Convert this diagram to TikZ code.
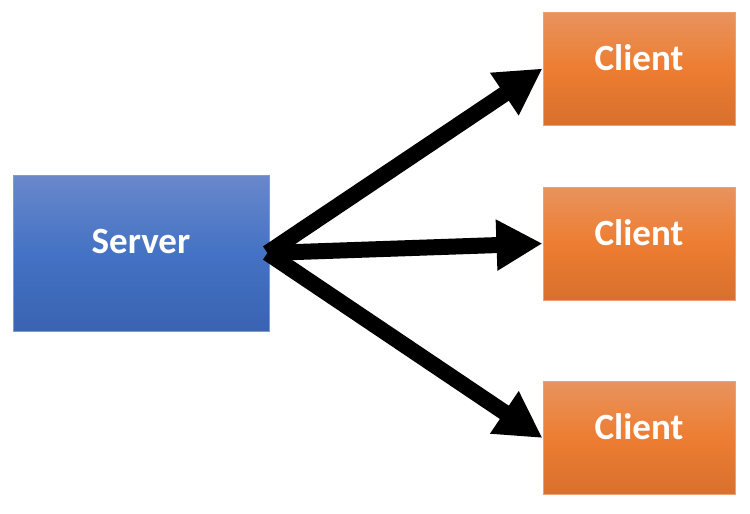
\documentclass[tikz,border=0pt]{standalone}
\usepackage{fontspec}
\setmainfont{Carlito}
\usetikzlibrary{arrows.meta}
\definecolor{srvtop}{HTML}{6A88CB}
\definecolor{srvmid}{HTML}{4472C4}
\definecolor{srvbot}{HTML}{3A63B2}
\definecolor{srvedge}{HTML}{7F9BD6}
\definecolor{clitop}{HTML}{E8935E}
\definecolor{climid}{HTML}{ED7D31}
\definecolor{clibot}{HTML}{D8702E}
\definecolor{cliedge}{HTML}{F0A070}
\tikzset{
  boxtext/.style={text=white, font=\fontsize{37}{40}\selectfont\bfseries, yshift=11pt},
  srvbox/.style={rectangle, draw=srvedge, line width=1pt, top color=srvtop, bottom color=srvbot, middle color=srvmid,
    minimum width=256pt, minimum height=156pt, inner sep=0pt},
  clibox/.style={rectangle, draw=cliedge, line width=1pt, top color=clitop, bottom color=clibot, middle color=climid,
    minimum width=192pt, minimum height=113pt, inner sep=0pt},
  bigarrow/.style={draw=black, line width=16pt, -{Triangle[length=46pt,width=48pt]}}
}
\begin{document}
\begin{tikzpicture}[x=1pt,y=-1pt]
\useasboundingbox (0,0) rectangle (750,514);
\node[srvbox, label={[boxtext]center:Server}] (server) at (141,253) {};
\node[clibox, label={[boxtext]center:Client}] (c1) at (639,68.5) {};
\node[clibox, label={[boxtext]center:Client}] (c2) at (639,243.5) {};
\node[clibox, label={[boxtext]center:Client}] (c3) at (639,438) {};
\coordinate (s) at ([xshift=-2pt]server.east);
\draw[bigarrow] (s) -- (c1.west);
\draw[bigarrow] (s) -- (c2.west);
\draw[bigarrow] (s) -- (c3.west);
\end{tikzpicture}
\end{document}
